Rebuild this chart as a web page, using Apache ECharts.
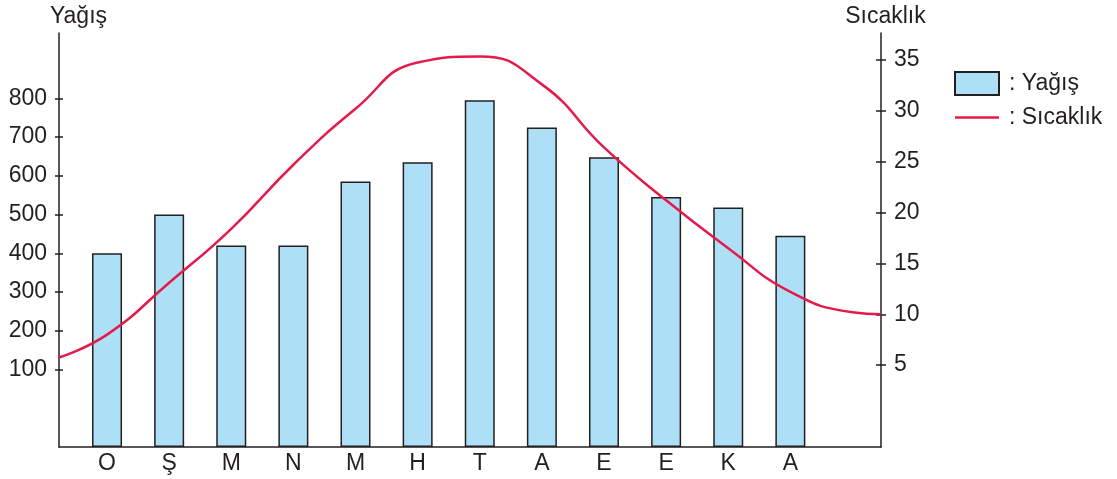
<!DOCTYPE html>
<html><head><meta charset="utf-8">
<script src="https://cdn.jsdelivr.net/npm/echarts@6/dist/echarts.min.js"></script>
<style>html,body{margin:0;padding:0;background:#fff}#c{width:1117px;height:479px}</style>
</head><body><div id="c"></div>
<script>
// ---- data ----
const months = ['O', 'Ş', 'M', 'N', 'M', 'H', 'T', 'A', 'E', 'E', 'K', 'A'];
const precipitation = [400, 500, 420, 420, 585, 635, 795, 725, 648, 545, 518, 445];
const temperature = [8.0, 13.1, 18.4, 24.7, 30.2, 34.75, 35.35, 32.6, 26.4, 21.2, 16.5, 12.2];
// extra points of the temperature curve outside the month columns: [position in months, value]
const temperatureLead = [[-0.773, 5.75]];
const temperatureTail = [[12.0, 10.2], [12.459, 10.0]];
const precipTicks = [100, 200, 300, 400, 500, 600, 700, 800];
const tempTicks = [5, 10, 15, 20, 25, 30, 35];

// ---- axis ranges ----
const precipBase = -100;           // value at the bottom line of the chart
const precipTop = 968.6;
const tempMin = -3.05, tempMax = 37.65;
const xMin = -0.773, xMax = 12.459;

const ink = '#231f20';
const red = '#e31b4b';
const font = 'Liberation Sans, Arial, Helvetica, sans-serif';
const fs = 23;

// bars rise from the chart's baseline, so values are measured from precipBase
const barData = precipitation.map((v, i) => [i, v - precipBase]);
const precipTickPos = precipTicks.map(v => v - precipBase);
const lineData = temperatureLead
  .concat(temperature.map((t, i) => [i, t]))
  .concat(temperatureTail);

const chart = echarts.init(document.getElementById('c'), null, {renderer: 'canvas'});
const baseY = {
  type: 'value', splitLine: {show: false},
  axisLine: {show: false, onZero: false},
  axisLabel: {show: false}
};
chart.setOption({
  animation: false,
  backgroundColor: '#fff',
  textStyle: {fontFamily: font, color: ink},
  grid: {left: 59, right: 236, top: 33, bottom: 32, outerBoundsMode: 'none', containLabel: false},
  xAxis: {
    type: 'value', min: xMin, max: xMax,
    splitLine: {show: false},
    axisTick: {show: false},
    axisLine: {show: true, onZero: false, lineStyle: {color: ink, width: 1.5}},
    axisLabel: {
      customValues: months.map((m, i) => i),
      formatter: v => months[Math.round(v)],
      color: ink, fontSize: fs, fontFamily: font, margin: 5
    }
  },
  yAxis: [
    {
      type: 'value', position: 'left', min: 0, max: precipTop - precipBase,
      name: 'Yağış', nameLocation: 'end', nameGap: 5,
      nameTextStyle: {color: ink, fontSize: fs, fontFamily: font, align: 'center', padding: [0, 0, 0, 39]},
      splitLine: {show: false},
      axisLine: {show: true, onZero: false, lineStyle: {color: ink, width: 1.5}},
      axisTick: {show: true, customValues: precipTickPos, length: 4, lineStyle: {color: ink, width: 1.5}},
      axisLabel: {customValues: precipTickPos, formatter: v => String(Math.round(v + precipBase)),
        color: ink, fontSize: fs, fontFamily: font, margin: 12}
    },
    {
      type: 'value', position: 'right', min: tempMin, max: tempMax,
      name: 'Sıcaklık', nameLocation: 'end', nameGap: 5,
      nameTextStyle: {color: ink, fontSize: fs, fontFamily: font, align: 'center', padding: [0, 0, 0, 9]},
      splitLine: {show: false},
      axisLine: {show: true, onZero: false, lineStyle: {color: ink, width: 1.5}},
      axisTick: {show: true, customValues: tempTicks, length: 5, lineStyle: {color: ink, width: 1.5}},
      axisLabel: {customValues: tempTicks, color: ink, fontSize: fs, fontFamily: font, margin: 13}
    },
    Object.assign({}, baseY, {position: 'left', min: 0, max: precipTop - precipBase,
      axisTick: {show: true, inside: true, customValues: precipTickPos, length: 4, lineStyle: {color: ink, width: 1.5}}}),
    Object.assign({}, baseY, {position: 'right', min: tempMin, max: tempMax,
      axisTick: {show: true, inside: true, customValues: tempTicks, length: 5, lineStyle: {color: ink, width: 1.5}}})
  ],
  legend: {
    orient: 'vertical', left: 954, top: 71, padding: 0,
    itemWidth: 44, itemHeight: 23, itemGap: 10,
    formatter: name => ': ' + name,
    textStyle: {color: ink, fontSize: fs, fontFamily: font, padding: [0, 0, 0, 5]},
    data: [
      {name: 'Yağış', icon: 'rect'},
      {name: 'Sıcaklık', icon: 'path://M0,0H44V2.5H0Z', itemStyle: {color: red, borderWidth: 0}}
    ]
  },
  series: [
    {
      name: 'Yağış', type: 'bar', xAxisIndex: 0, yAxisIndex: 0,
      barWidth: 30, data: barData,
      itemStyle: {color: '#ade0f7', borderColor: ink, borderWidth: 1.5}
    },
    {
      name: 'Sıcaklık', type: 'line', xAxisIndex: 0, yAxisIndex: 1,
      data: lineData, smooth: 0.5, symbol: 'none', showSymbol: false,
      lineStyle: {color: red, width: 2.5}, itemStyle: {color: red}
    }
  ]
});
</script></body></html>
